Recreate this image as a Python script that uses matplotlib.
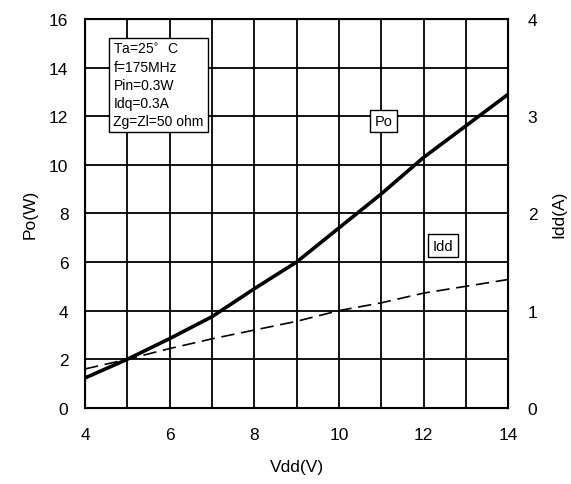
import matplotlib
matplotlib.use("Agg")
import matplotlib.pyplot as plt

plt.rcParams["font.family"] = ["Liberation Sans", "DejaVu Sans"]

vdd = [4, 5, 6, 7, 8, 9, 10, 11, 12, 13, 14]
po = [1.23, 2.0, 2.85, 3.75, 4.9, 6.0, 7.4, 8.8, 10.3, 11.6, 12.9]
idd = [0.40, 0.50, 0.61, 0.71, 0.80, 0.89, 1.0, 1.08, 1.18, 1.25, 1.32]

conditions = "Ta=25$^{\\circ}$  C\nf=175MHz\nPin=0.3W\nIdq=0.3A\nZg=Zl=50 ohm"


def main():
    fig = plt.figure(figsize=(5.71, 4.85), dpi=100)
    ax = fig.add_axes([0.149, 0.157, 0.741, 0.802])
    ax.plot(vdd, po, color="black", lw=2.6)
    ax.set_xlim(4, 14)
    ax.set_ylim(0, 16)
    ax.set_xticks(range(4, 15, 2))
    ax.set_xticks(range(4, 15), minor=True)
    ax.set_yticks(range(0, 17, 2))
    ax.grid(True, which="both", color="black", lw=1.3)
    ax.tick_params(axis="y", which="both", length=0, labelsize=12.5, pad=12)
    ax.tick_params(axis="x", which="both", length=0, labelsize=12.5, pad=14)
    ax.set_xlabel("Vdd(V)", fontsize=12.5, labelpad=12)
    ax.set_ylabel("Po(W)", fontsize=12.5, labelpad=8)
    for s in ax.spines.values():
        s.set_linewidth(1.5)

    ax2 = ax.twinx()
    ax2.plot(vdd, idd, color="black", lw=1.2, dashes=(8, 4))
    ax2.set_ylim(0, 4)
    ax2.set_yticks(range(0, 5))
    ax2.tick_params(length=0, labelsize=12.5, pad=14)
    ax2.set_ylabel("Idd(A)", fontsize=12.5, labelpad=10)

    box = dict(boxstyle="square,pad=0.3", fc="white", ec="black", lw=1)
    ax.text(4.67, 15.05, conditions, fontsize=10, va="top", ha="left",
            linespacing=1.35,
            bbox=dict(boxstyle="square,pad=0.3", fc="white", ec="black", lw=1))
    ax.text(11.05, 11.8, "Po", fontsize=10.5, ha="center", va="center", bbox=box)
    ax.text(12.46, 6.67, "Idd", fontsize=10.5, ha="center", va="center", bbox=box)

    fig.savefig("out.png", dpi=100)
    plt.close(fig)


if __name__ == "__main__":
    main()
